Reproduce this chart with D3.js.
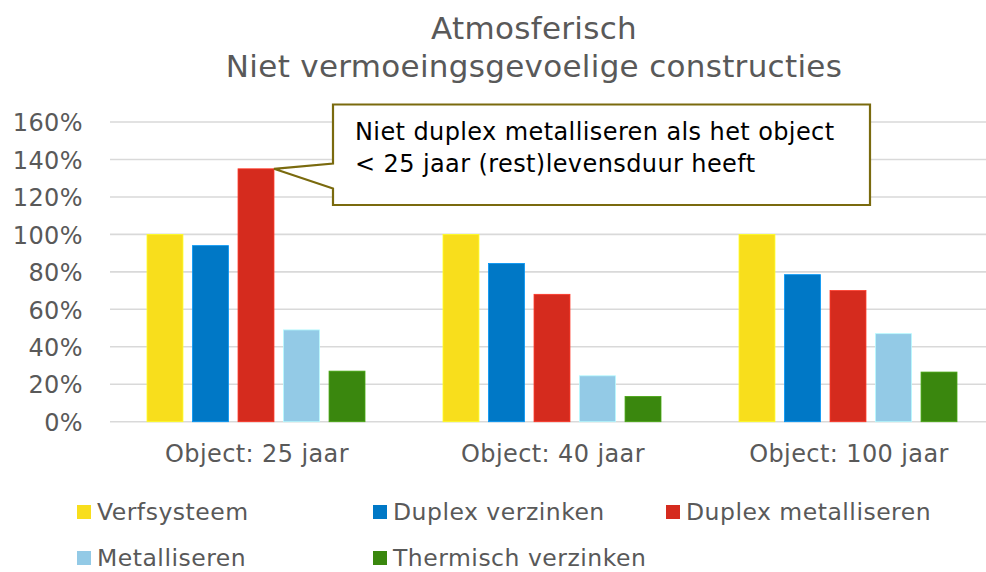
<!DOCTYPE html>
<html>
<head>
<meta charset="utf-8">
<script src="https://cdn.jsdelivr.net/npm/d3@7"></script>
<style>
  body { margin: 0; background: #fff; }
  svg text { font-family: "DejaVu Sans", Verdana, sans-serif; }
</style>
</head>
<body>
<script>
// data
var categories = ['Object: 25 jaar', 'Object: 40 jaar', 'Object: 100 jaar'];
var series = ['Verfsysteem', 'Duplex verzinken', 'Duplex metalliseren', 'Metalliseren', 'Thermisch verzinken'];
var colors = ['#F8DE1C', '#0078C6', '#D52B1E', '#93CAE6', '#3A870E'];
var verfsysteem = [1.00, 1.00, 1.00];
var duplexVerzinken = [0.94, 0.845, 0.785];
var duplexMetalliseren = [1.35, 0.68, 0.70];
var metalliseren = [0.49, 0.245, 0.47];
var thermischVerzinken = [0.27, 0.135, 0.265];
var yTicks = [0, 0.2, 0.4, 0.6, 0.8, 1.0, 1.2, 1.4, 1.6];
var titleLines = ['Atmosferisch', 'Niet vermoeingsgevoelige constructies'];
var calloutLines = ['Niet duplex metalliseren als het object', '< 25 jaar (rest)levensduur heeft'];

var values = [verfsysteem, duplexVerzinken, duplexMetalliseren, metalliseren, thermischVerzinken];

var W = 986, H = 572;
var plot = {left: 109, right: 997, top: 122, bottom: 421.7};
var grey = '#595959';
var fs = '24px';

var svg = d3.select('body').append('svg')
  .attr('width', W).attr('height', H);

var x0 = d3.scaleBand().domain(categories)
  .range([plot.left, plot.right]).paddingInner(0).paddingOuter(0);
var x1 = d3.scaleBand().domain(series)
  .range([38, x0.bandwidth() - 40]).paddingInner(0.21).paddingOuter(0);
var y = d3.scaleLinear().domain([0, 1.6]).range([plot.bottom, plot.top]);

// gridlines
svg.append('g').selectAll('line')
  .data(yTicks).enter().append('line')
  .attr('x1', 110).attr('x2', W)
  .attr('y1', function(d) { return y(d); })
  .attr('y2', function(d) { return y(d); })
  .attr('stroke', '#D9D9D9').attr('stroke-width', 1.6);

// y axis labels
var yAxis = d3.axisLeft(y).tickValues(yTicks)
  .tickFormat(d3.format('.0%')).tickSize(0).tickPadding(0);
var yg = svg.append('g').attr('transform', 'translate(83,1)').call(yAxis);
yg.select('.domain').remove();
yg.selectAll('text').attr('fill', grey).style('font-size', fs)
  .style('letter-spacing', '0.4px')
  .style('font-family', '"DejaVu Sans", Verdana, sans-serif');

// bars
var groups = svg.append('g').selectAll('g')
  .data(categories).enter().append('g')
  .attr('transform', function(d) { return 'translate(' + x0(d) + ',0)'; });

groups.selectAll('rect')
  .data(function(d, ci) {
    return series.map(function(s, si) { return {s: s, si: si, v: values[si][ci]}; });
  })
  .enter().append('rect')
  .attr('x', function(d) { return x1(d.s); })
  .attr('width', x1.bandwidth())
  .attr('y', function(d) { return y(d.v); })
  .attr('height', function(d) { return y(0) - y(d.v); })
  .attr('fill', function(d) { return colors[d.si]; })
  .attr('stroke', function(d) { return d3.color(colors[d.si]).brighter(0.6); })
  .attr('stroke-width', 0.8);

// x axis labels
var xAxis = d3.axisBottom(x0).tickSize(0).tickPadding(0);
var xg = svg.append('g').attr('transform', 'translate(0,' + 445 + ')').call(xAxis);
xg.select('.domain').remove();
xg.selectAll('text').attr('fill', grey).style('font-size', fs)
  .style('letter-spacing', '0.4px')
  .style('font-family', '"DejaVu Sans", Verdana, sans-serif');

// title
svg.append('g').selectAll('text')
  .data(titleLines).enter().append('text')
  .attr('x', 534).attr('y', function(d, i) { return 39 + i * 38; })
  .attr('text-anchor', 'middle')
  .attr('fill', grey).style('font-size', '31px')
  .style('letter-spacing', '0.3px')
  .text(function(d) { return d; });

// callout pointing to the red bar of the first group
var tipX = x0(categories[0]) + x1(series[2]) + x1.bandwidth();
var tipY = y(duplexMetalliseren[0]);
var bx0 = 333, bx1 = 870, by0 = 104.5, by1 = 205;
var callout = d3.path();
callout.moveTo(bx0, by0);
callout.lineTo(bx1, by0);
callout.lineTo(bx1, by1);
callout.lineTo(bx0, by1);
callout.lineTo(bx0, 188.5);
callout.lineTo(tipX, tipY);
callout.lineTo(bx0, 163.5);
callout.closePath();
svg.append('path').attr('d', callout.toString())
  .attr('fill', '#fff').attr('stroke', '#7A6A0E').attr('stroke-width', 2.2)
  .attr('stroke-linejoin', 'miter');

svg.append('g').selectAll('text')
  .data(calloutLines).enter().append('text')
  .attr('x', 355).attr('y', function(d, i) { return 140 + i * 32; })
  .attr('fill', '#000').style('font-size', fs)
  .style('letter-spacing', '0.4px')
  .text(function(d) { return d; });

// legend
var legendPos = [[77, 505], [373, 505], [666, 505], [77, 551], [373, 551]];
var legend = svg.append('g').selectAll('g')
  .data(series).enter().append('g')
  .attr('transform', function(d, i) { return 'translate(' + legendPos[i][0] + ',' + legendPos[i][1] + ')'; });
legend.append('rect').attr('width', 14).attr('height', 14)
  .attr('fill', function(d, i) { return colors[i]; });
legend.append('text').attr('x', 20).attr('y', 15)
  .attr('fill', grey).style('font-size', '23.5px')
  .style('letter-spacing', '0.5px')
  .text(function(d) { return d; });
</script>
</body>
</html>
